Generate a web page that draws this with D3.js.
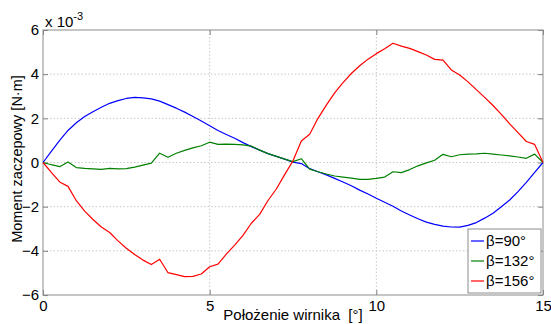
<!DOCTYPE html>
<html>
<head>
<meta charset="utf-8">
<script src="https://cdn.jsdelivr.net/npm/d3@7"></script>
<style>
  body { margin: 0; background: #fff; }
  svg { font-family: "Liberation Sans", Arial, sans-serif; }
</style>
</head>
<body>
<div id="chart"></div>
<script>
// rotor angle [deg]
var angles = [0, 0.25, 0.5, 0.75, 1, 1.25, 1.5, 1.75, 2, 2.25, 2.5, 2.75, 3, 3.25, 3.5, 3.75,
  4, 4.25, 4.5, 4.75, 5, 5.25, 5.5, 5.75, 6, 6.25, 6.5, 6.75, 7, 7.25, 7.5, 7.75,
  8, 8.25, 8.5, 8.75, 9, 9.25, 9.5, 9.75, 10, 10.25, 10.5, 10.75, 11, 11.25, 11.5, 11.75,
  12, 12.25, 12.5, 12.75, 13, 13.25, 13.5, 13.75, 14, 14.25, 14.5, 14.75, 15];

// cogging torque, x 10^-3 N·m
var beta90 = [0, 0.5, 1.0, 1.45, 1.8, 2.08, 2.3, 2.5, 2.68, 2.8, 2.9, 2.95, 2.93, 2.88, 2.78, 2.62,
  2.46, 2.28, 2.08, 1.88, 1.66, 1.45, 1.27, 1.1, 0.9, 0.72, 0.56, 0.4, 0.28, 0.15, 0.02, -0.05,
  -0.28, -0.42, -0.56, -0.72, -0.88, -1.05, -1.25, -1.43, -1.62, -1.8, -1.98, -2.2, -2.38, -2.55, -2.7, -2.8,
  -2.88, -2.92, -2.93, -2.85, -2.72, -2.52, -2.3, -2.0, -1.7, -1.32, -0.9, -0.45, 0];
var beta132 = [0, -0.1, -0.19, 0.02, -0.23, -0.27, -0.29, -0.31, -0.27, -0.29, -0.28, -0.21, -0.12, -0.03, 0.42, 0.24,
  0.42, 0.55, 0.66, 0.76, 0.92, 0.82, 0.83, 0.82, 0.8, 0.74, 0.56, 0.4, 0.28, 0.15, 0.04, 0.17,
  -0.3, -0.42, -0.52, -0.61, -0.66, -0.71, -0.76, -0.76, -0.72, -0.66, -0.42, -0.46, -0.32, -0.15, -0.02, 0.1,
  0.37, 0.26, 0.35, 0.38, 0.39, 0.42, 0.38, 0.34, 0.3, 0.25, 0.19, 0.38, 0];
var beta156 = [0, -0.45, -0.88, -1.08, -1.73, -2.2, -2.58, -2.92, -3.17, -3.55, -3.88, -4.17, -4.42, -4.62, -4.38, -4.99,
  -5.08, -5.17, -5.16, -5.05, -4.72, -4.6, -4.15, -3.74, -3.3, -2.75, -2.35, -1.72, -1.2, -0.55, 0.08, 0.97,
  1.28, 2.0, 2.6, 3.15, 3.62, 4.03, 4.38, 4.68, 4.93, 5.15, 5.4, 5.27, 5.17, 5.02, 4.87, 4.67,
  4.64, 4.19, 3.96, 3.65, 3.3, 2.95, 2.58, 2.18, 1.75, 1.35, 0.95, 0.82, 0];

var seriesNames = ['\u03b2=90\u00b0', '\u03b2=132\u00b0', '\u03b2=156\u00b0'];
var seriesColors = ['#0000ff', '#008000', '#ff0000'];
var xTicks = [0, 5, 10, 15];
var yTicks = [-6, -4, -2, 0, 2, 4, 6];

var width = 551, height = 324;
var margin = {left: 43, top: 30, right: 8, bottom: 29};
var plotW = width - margin.left - margin.right,
    plotH = height - margin.top - margin.bottom;

var svg = d3.select('#chart').append('svg')
    .attr('width', width)
    .attr('height', height);

var x = d3.scaleLinear().domain([0, 15]).range([0, plotW]);
var y = d3.scaleLinear().domain([-6, 6]).range([plotH, 0]);

var g = svg.append('g')
    .attr('transform', 'translate(' + margin.left + ',' + margin.top + ')');

// grid
g.append('g').selectAll('line')
    .data(xTicks.slice(1, -1))
    .enter().append('line')
    .attr('x1', function (d) { return x(d); })
    .attr('x2', function (d) { return x(d); })
    .attr('y1', 0).attr('y2', plotH)
    .attr('stroke', '#c8c8c8').attr('stroke-dasharray', '1.5,2');
g.append('g').selectAll('line')
    .data(yTicks.slice(1, -1))
    .enter().append('line')
    .attr('y1', function (d) { return y(d); })
    .attr('y2', function (d) { return y(d); })
    .attr('x1', 0).attr('x2', plotW)
    .attr('stroke', '#c8c8c8').attr('stroke-dasharray', '1.5,2');

// axes (ticks inside, matlab style)
function styleAxis(sel) {
    sel.select('.domain').remove();
    sel.selectAll('line').attr('stroke', '#808080');
    sel.selectAll('text').attr('fill', '#000').style('font-size', '15px');
}
g.append('g')
    .attr('transform', 'translate(0,' + plotH + ')')
    .call(d3.axisBottom(x).tickValues(xTicks).tickSize(-5).tickPadding(5).tickFormat(d3.format('d')))
    .call(styleAxis);
g.append('g')
    .call(d3.axisTop(x).tickValues(xTicks).tickSize(-5).tickFormat(''))
    .call(styleAxis);
g.append('g')
    .call(d3.axisLeft(y).tickValues(yTicks).tickSize(-5).tickPadding(4).tickFormat(d3.format('d')))
    .call(styleAxis);
g.append('g')
    .attr('transform', 'translate(' + plotW + ',0)')
    .call(d3.axisRight(y).tickValues(yTicks).tickSize(-5).tickFormat(''))
    .call(styleAxis);

g.append('rect')
    .attr('width', plotW).attr('height', plotH)
    .attr('fill', 'none').attr('stroke', '#8c8c8c').attr('stroke-width', 1);

// lines
var line = d3.line()
    .x(function (d, i) { return x(angles[i]); })
    .y(function (d) { return y(d); });
[beta90, beta132, beta156].forEach(function (s, i) {
    g.append('path')
        .datum(s)
        .attr('d', line)
        .attr('fill', 'none')
        .attr('stroke', seriesColors[i])
        .attr('stroke-width', 1.2)
        .attr('stroke-linejoin', 'round');
});

// exponent label
var expo = svg.append('text')
    .attr('x', margin.left + 2).attr('y', margin.top - 3)
    .style('font-size', '15px');
expo.append('tspan').text('x 10');
expo.append('tspan').attr('dy', -7).style('font-size', '11px').text('-3');

// axis titles
svg.append('text')
    .attr('x', margin.left + plotW / 2).attr('y', 320)
    .attr('text-anchor', 'middle')
    .style('font-size', '15px')
    .style('white-space', 'pre')
    .text('Po\u0142o\u017cenie wirnika  [\u00b0]');
svg.append('text')
    .attr('transform', 'translate(22,159) rotate(-90)')
    .attr('text-anchor', 'middle')
    .style('font-size', '14.5px')
    .text('Moment zaczepowy [N\u00b7m]');

// legend
var lg = svg.append('g').attr('transform', 'translate(468,229)');
lg.append('rect')
    .attr('width', 73).attr('height', 64)
    .attr('fill', '#fff').attr('stroke', '#8c8c8c');
seriesNames.forEach(function (name, i) {
    var row = lg.append('g').attr('transform', 'translate(0,' + (12 + i * 20) + ')');
    row.append('line')
        .attr('x1', 3).attr('x2', 16)
        .attr('stroke', seriesColors[i]).attr('stroke-width', 1.2);
    row.append('text')
        .attr('x', 18).attr('y', 5)
        .style('font-size', '15px')
        .text(name);
});
</script>
</body>
</html>
